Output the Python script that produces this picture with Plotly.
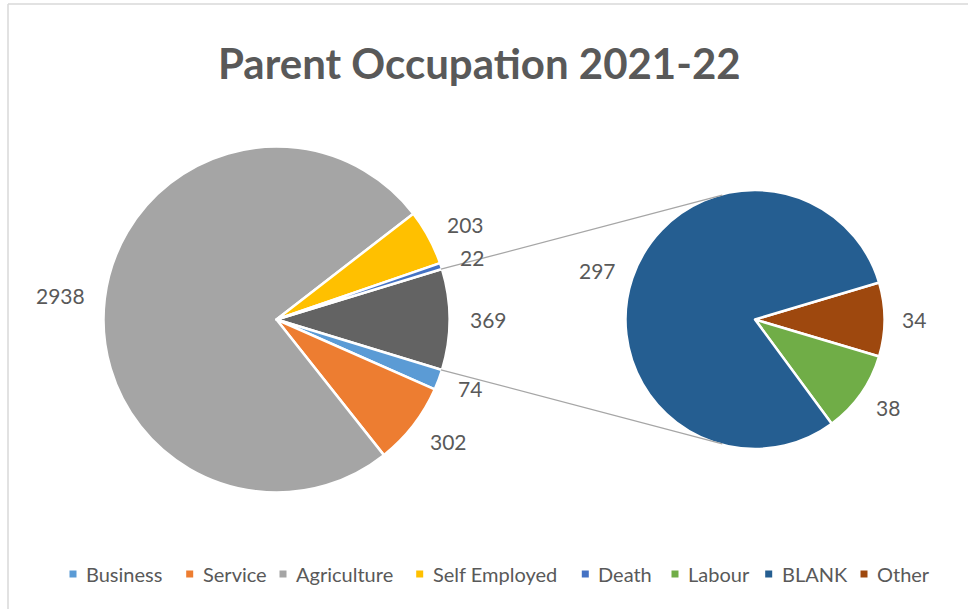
import math
import plotly.graph_objects as go

# ---------------- data ----------------
title_text = "Parent Occupation 2021-22"
primary_categories = ["Business", "Service", "Agriculture", "Self Employed", "Death"]
primary_values = [74, 302, 2938, 203, 22]
secondary_categories = ["Other", "Labour", "BLANK"]
secondary_values = [34, 38, 297]
aggregate_label = "Other"
legend_categories = ["Business", "Service", "Agriculture", "Self Employed",
                     "Death", "Labour", "BLANK", "Other"]

# ---------------- style ----------------
W, H = 968, 609
FONT = "Lato"
TEXT = "#595959"
palette = {
    "Business": "#5B9BD5", "Service": "#ED7D31", "Agriculture": "#A5A5A5",
    "Self Employed": "#FFC000", "Death": "#4472C4", "Labour": "#70AD47",
    "BLANK": "#255E91", "Other": "#9E480E",
}
AGG_COLOR = "#636363"
MAIN_C, MAIN_R = (276.5, 319.5), 173.0
SEC_C, SEC_R = (755.0, 319.5), 129.5
MAIN_GAP, SEC_GAP = 19.0, 16.5
LABEL_SIZE, LEGEND_SIZE, TITLE_SIZE = 21, 20, 42
LEGEND_Y = 574
legend_marker_x = [73, 189.7, 283, 419.7, 585.3, 675, 768.7, 864]
LEGEND_TEXT_DX = 11
TITLE_X, TITLE_Y = 479, 62.8


def fx(x):
    return x / W


def fy(y):
    return 1 - y / H


def pie_domain(c, r):
    return dict(x=[fx(c[0] - r), fx(c[0] + r)], y=[fy(c[1] + r), fy(c[1] - r)])


main_values = [sum(secondary_values)] + primary_values
main_names = [aggregate_label + " "] + primary_categories
main_colors = [AGG_COLOR] + [palette[c] for c in primary_categories]
sec_colors = [palette[c] for c in secondary_categories]

main_rot = 90 - 180 * main_values[0] / sum(main_values)
sec_rot = 90 - 180 * secondary_values[0] / sum(secondary_values)

fig = go.Figure()
fig.add_trace(go.Pie(
    labels=main_names, values=main_values, sort=False, direction="clockwise",
    rotation=main_rot, domain=pie_domain(MAIN_C, MAIN_R),
    marker=dict(colors=main_colors, line=dict(color="white", width=2.5)),
    textinfo="none", hoverinfo="label+value", showlegend=False,
))
fig.add_trace(go.Pie(
    labels=secondary_categories, values=secondary_values, sort=False,
    direction="clockwise", rotation=sec_rot, domain=pie_domain(SEC_C, SEC_R),
    marker=dict(colors=sec_colors, line=dict(color="white", width=2.5)),
    textinfo="none", hoverinfo="label+value", showlegend=False,
))

annotations = []


def slice_labels(center, r, gap, values, rotation):
    total = sum(values)
    ang = rotation
    for v in values:
        span = 360.0 * v / total
        mid = math.radians(ang + span / 2)
        ang += span
        s, dn = math.sin(mid), -math.cos(mid)
        ax = center[0] + (r + gap) * s
        ay = center[1] + (r + gap) * dn + dn * 8
        xa = "left" if s > 0.25 else ("right" if s < -0.25 else "center")
        annotations.append(dict(
            x=fx(ax), y=fy(ay), xref="paper", yref="paper", text=str(v),
            showarrow=False, xanchor=xa, yanchor="middle",
            font=dict(family=FONT, size=LABEL_SIZE, color=TEXT),
        ))


slice_labels(MAIN_C, MAIN_R - 1, MAIN_GAP, main_values, main_rot)
slice_labels(SEC_C, SEC_R - 1, SEC_GAP, secondary_values, sec_rot)

# connector lines (derived from pie geometry)
agg_span = 360.0 * main_values[0] / sum(main_values)


def edge_point(c, r, deg):
    a = math.radians(deg)
    return (c[0] + r * math.sin(a), c[1] - r * math.cos(a))


def tangent(P, C, r, upper):
    dx, dy = P[0] - C[0], P[1] - C[1]
    d = math.hypot(dx, dy)
    base = math.atan2(dy, dx)
    a = math.acos(r / d)
    cands = [(C[0] + r * math.cos(base + k * a), C[1] + r * math.sin(base + k * a))
             for k in (1, -1)]
    return min(cands, key=lambda t: t[1]) if upper else max(cands, key=lambda t: t[1])


shapes = []
for deg, upper in ((main_rot, True), (main_rot + agg_span, False)):
    p = edge_point(MAIN_C, MAIN_R - 1, deg)
    t = tangent(p, SEC_C, SEC_R - 1, upper)
    shapes.append(dict(type="line", xref="paper", yref="paper",
                       x0=fx(p[0]), y0=fy(p[1]), x1=fx(t[0]), y1=fy(t[1]),
                       line=dict(color="#A6A6A6", width=1.3)))

# chart frame
shapes.append(dict(type="line", xref="paper", yref="paper", x0=fx(8), y0=fy(4),
                   x1=fx(W + 10), y1=fy(4), line=dict(color="#D9D9D9", width=1.5)))
shapes.append(dict(type="line", xref="paper", yref="paper", x0=fx(8), y0=fy(4),
                   x1=fx(8), y1=fy(H + 10), line=dict(color="#D9D9D9", width=1.5)))

# legend (markers on a hidden pixel-scaled axis)
fig.add_trace(go.Scatter(
    x=legend_marker_x, y=[LEGEND_Y] * len(legend_categories), mode="markers",
    marker=dict(symbol="square", size=7, color=[palette[c] for c in legend_categories],
                line=dict(width=0)),
    hoverinfo="skip", showlegend=False,
))
for mx, name in zip(legend_marker_x, legend_categories):
    annotations.append(dict(
        x=mx + LEGEND_TEXT_DX, y=LEGEND_Y, xref="x", yref="y", text=name,
        showarrow=False, xanchor="left", yanchor="middle",
        font=dict(family=FONT, size=LEGEND_SIZE, color=TEXT),
    ))

annotations.append(dict(
    x=fx(TITLE_X), y=fy(TITLE_Y), xref="paper", yref="paper", text=title_text,
    showarrow=False, xanchor="center", yanchor="middle",
    font=dict(family=FONT, size=TITLE_SIZE, color=TEXT, weight="bold"),
))

fig.update_layout(
    width=W, height=H, margin=dict(l=0, r=0, t=0, b=0),
    paper_bgcolor="white", plot_bgcolor="rgba(0,0,0,0)",
    xaxis=dict(range=[0, W], visible=False, fixedrange=True),
    yaxis=dict(range=[H, 0], visible=False, fixedrange=True),
    annotations=annotations, shapes=shapes, showlegend=False,
    font=dict(family=FONT, color=TEXT),
)

fig.write_html("out.html", config={"displayModeBar": False},
               post_script="document.body.style.margin='0px';")
